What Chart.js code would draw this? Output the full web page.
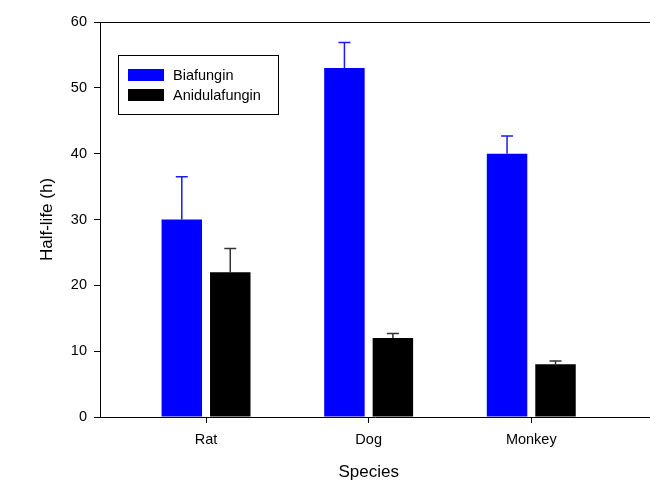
<!DOCTYPE html>
<html>
<head>
<meta charset="utf-8">
<script src="https://cdn.jsdelivr.net/npm/chart.js@4.4.1/dist/chart.umd.min.js"></script>
<style>
  html, body { margin: 0; padding: 0; background: #fff; }
  canvas { display: block; }
</style>
</head>
<body>
<canvas id="chart" width="650" height="481"></canvas>
<script>
// Half-life by species, mean with upper SD whisker
const species = ['Rat', 'Dog', 'Monkey'];
const speciesPos = [1, 2, 3];
const biafungin = [30, 53, 40];
const biafunginSD = [6.5, 3.9, 2.7];
const anidulafungin = [22, 12, 8];
const anidulafunginSD = [3.6, 0.7, 0.5];
const yTickValues = [0, 10, 20, 30, 40, 50, 60];

const FONT = 'Liberation Sans, Arial, Helvetica, sans-serif';

const seriesInfo = [
  { label: 'Biafungin', values: biafungin, sd: biafunginSD, color: '#0000ff', whisker: '#1a1aff' },
  { label: 'Anidulafungin', values: anidulafungin, sd: anidulafunginSD, color: '#000000', whisker: '#333333' }
];

const datasets = seriesInfo.map(s => ({
  label: s.label,
  data: speciesPos.map((x, i) => ({ x: x, y: s.values[i] })),
  backgroundColor: s.color,
  borderWidth: 0,
  categoryPercentage: 0.596,
  barPercentage: 0.835,
  sd: s.sd,
  whisker: s.whisker
}));

const decorPlugin = {
  id: 'decor',
  afterDatasetsDraw(chart) {
    const ctx = chart.ctx;
    const yScale = chart.scales.y;
    ctx.save();
    chart.data.datasets.forEach((ds, di) => {
      const meta = chart.getDatasetMeta(di);
      ctx.strokeStyle = ds.whisker;
      ctx.lineWidth = 1.5;
      meta.data.forEach((bar, i) => {
        const v = ds.data[i].y;
        const yBase = yScale.getPixelForValue(v);
        const yTop = yScale.getPixelForValue(v + ds.sd[i]);
        ctx.beginPath();
        ctx.moveTo(bar.x, yBase);
        ctx.lineTo(bar.x, yTop);
        ctx.moveTo(bar.x - 6, yTop);
        ctx.lineTo(bar.x + 6, yTop);
        ctx.stroke();
      });
    });
    ctx.restore();
  },
  afterDraw(chart) {
    const ctx = chart.ctx;
    const area = chart.chartArea;
    const xScale = chart.scales.x;
    ctx.save();

    // top frame line
    ctx.strokeStyle = '#000';
    ctx.lineWidth = 1;
    ctx.beginPath();
    ctx.moveTo(area.left, area.top + 0.5);
    ctx.lineTo(area.right, area.top + 0.5);
    ctx.stroke();

    // legend box
    const lx = 118, ly = 55, lw = 160, lh = 59;
    ctx.strokeStyle = '#000';
    ctx.lineWidth = 1;
    ctx.strokeRect(lx + 0.5, ly + 0.5, lw, lh);
    ctx.font = '14.5px ' + FONT;
    ctx.textBaseline = 'middle';
    ctx.textAlign = 'left';
    chart.data.datasets.forEach((ds, di) => {
      const rowY = 75 + di * 20;
      ctx.fillStyle = ds.backgroundColor;
      ctx.fillRect(128, rowY - 6, 36, 12);
      ctx.fillStyle = '#000';
      ctx.fillText(ds.label, 173, rowY + 0.5);
    });

    // x axis title, centred under the middle category
    ctx.font = '17px ' + FONT;
    ctx.textAlign = 'center';
    ctx.textBaseline = 'middle';
    ctx.fillStyle = '#000';
    ctx.fillText('Species', xScale.getPixelForValue(speciesPos[1]), 472);

    ctx.restore();
  }
};

new Chart(document.getElementById('chart'), {
  type: 'bar',
  data: { datasets: datasets },
  options: {
    responsive: false,
    animation: false,
    devicePixelRatio: 1,
    layout: { padding: { top: 22, right: 0, bottom: 0, left: 0 } },
    plugins: {
      legend: { display: false },
      tooltip: { enabled: false }
    },
    scales: {
      x: {
        type: 'linear',
        offset: false,
        min: 0.348,
        max: 3.73,
        afterFit(scale) { scale.height = 64; },
        afterBuildTicks(scale) {
          scale.ticks = speciesPos.map(v => ({ value: v }));
        },
        ticks: {
          autoSkip: false,
          maxRotation: 0,
          padding: 8,
          color: '#000',
          font: { family: FONT, size: 14.5 },
          callback: (v) => species[speciesPos.indexOf(v)]
        },
        grid: {
          display: true,
          offset: false,
          drawOnChartArea: false,
          drawTicks: true,
          tickLength: 6,
          color: '#000',
          lineWidth: 1
        },
        border: { display: true, color: '#000', width: 1 },
        title: { display: false }
      },
      y: {
        min: 0,
        max: 60,
        afterFit(scale) { scale.width = 100; },
        afterBuildTicks(scale) {
          scale.ticks = yTickValues.map(v => ({ value: v }));
        },
        ticks: {
          padding: 7,
          color: '#000',
          font: { family: FONT, size: 14.5 }
        },
        grid: {
          display: true,
          drawOnChartArea: false,
          drawTicks: true,
          tickLength: 6,
          color: '#000',
          lineWidth: 1
        },
        border: { display: true, color: '#000', width: 1 },
        title: {
          display: true,
          text: 'Half-life (h)',
          color: '#000',
          font: { family: FONT, size: 17 },
          padding: { top: 37, bottom: 0 }
        }
      }
    }
  },
  plugins: [decorPlugin]
});
</script>
</body>
</html>
